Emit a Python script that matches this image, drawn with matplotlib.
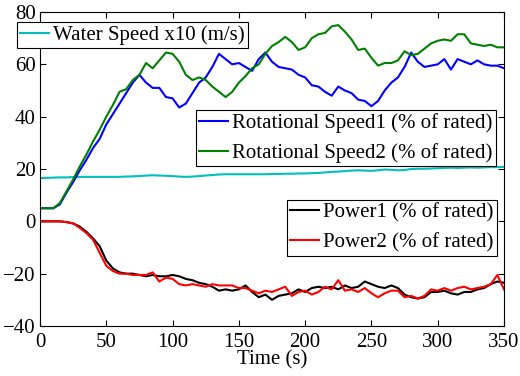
import numpy as np
import matplotlib
matplotlib.use("Agg")
import matplotlib.pyplot as plt

# time axis (s), 5 s steps
time = np.arange(0, 351, 5)

water_speed = [16.5, 16.6, 16.7, 16.8, 16.8, 16.9, 17.0, 17.0, 17.0, 17.0,
               17.0, 17.0, 17.0, 17.1, 17.2, 17.3, 17.5, 17.6, 17.5, 17.4,
               17.3, 17.1, 17.0, 17.1, 17.3, 17.5, 17.7, 17.9, 18.0, 18.0,
               18.0, 18.0, 18.0, 18.0, 18.0, 18.1, 18.1, 18.2, 18.2, 18.3,
               18.3, 18.4, 18.5, 18.7, 18.9, 19.0, 19.2, 19.4, 19.5, 19.4,
               19.3, 19.5, 19.8, 19.7, 19.5, 19.6, 20.0, 20.1, 20.1, 20.2,
               20.3, 20.4, 20.5, 20.4, 20.5, 20.6, 20.5, 20.6, 20.7, 20.7, 20.8]

rot_speed1 = [5.0, 5.0, 5.0, 6.5, 11.0, 15.0, 19.5, 23.5, 28.0, 31.5,
              37.0, 41.0, 45.0, 49.0, 53.0, 56.0, 53.0, 51.0, 51.0, 47.5,
              47.0, 43.5, 45.0, 49.0, 53.0, 55.0, 59.0, 64.0, 62.0, 60.0,
              60.5, 59.0, 57.5, 62.0, 64.5, 61.0, 59.0, 58.5, 58.0, 56.0,
              55.0, 52.0, 51.5, 49.5, 48.0, 51.5, 50.0, 49.0, 46.5, 46.0,
              44.0, 46.0, 50.0, 53.0, 55.0, 59.0, 64.5, 61.0, 59.0, 59.5,
              60.0, 62.0, 58.0, 62.0, 61.0, 60.0, 61.5, 60.0, 59.5, 59.5, 58.5]

rot_speed2 = [5.0, 5.0, 5.0, 7.0, 11.5, 16.0, 21.0, 25.5, 30.5, 35.0,
              40.0, 44.5, 49.5, 50.5, 54.0, 56.0, 60.5, 58.5, 61.5, 64.5,
              64.0, 61.0, 56.0, 54.0, 55.0, 54.0, 51.5, 49.5, 47.5, 49.5,
              53.0, 55.5, 58.5, 60.0, 64.0, 67.0, 68.5, 70.5, 68.5, 65.5,
              66.5, 70.0, 71.5, 72.0, 74.5, 75.0, 72.5, 69.5, 65.5, 66.0,
              62.5, 59.5, 60.5, 60.5, 61.5, 65.0, 63.5, 64.0, 66.0, 68.0,
              69.0, 69.5, 69.0, 71.5, 71.5, 68.0, 67.5, 67.0, 67.5, 66.5, 66.5]

power1 = [0.0, 0.0, 0.0, 0.0, -0.3, -0.8, -2.0, -4.0, -6.5, -9.5,
          -15.0, -18.0, -19.5, -20.0, -20.0, -20.5, -21.0, -20.5, -21.0, -21.0,
          -20.5, -21.0, -22.0, -22.5, -23.5, -24.0, -25.0, -26.5, -26.0, -26.5,
          -26.0, -24.5, -27.0, -29.0, -28.0, -30.0, -28.5, -28.0, -27.5, -26.0,
          -27.0, -25.5, -25.0, -25.5, -25.0, -26.0, -24.5, -25.5, -25.0, -23.0,
          -24.0, -25.0, -25.5, -24.5, -25.5, -28.0, -29.0, -29.5, -29.0, -27.0,
          -27.0, -26.5, -27.5, -28.0, -27.0, -27.0, -26.0, -25.5, -24.0, -23.0, -23.5]

power2 = [0.0, 0.0, 0.0, 0.0, -0.3, -0.8, -2.5, -4.5, -7.0, -12.0,
          -17.0, -19.0, -20.0, -20.0, -20.5, -20.5, -20.5, -19.5, -23.0, -21.5,
          -22.0, -24.0, -24.5, -24.0, -24.5, -25.0, -24.0, -24.5, -24.5, -24.5,
          -25.5, -25.5, -26.5, -27.5, -26.5, -27.0, -26.0, -25.0, -28.5, -27.0,
          -26.5, -28.0, -27.0, -25.0, -26.0, -22.5, -26.5, -26.0, -27.0, -25.5,
          -27.5, -29.0, -27.5, -26.5, -26.5, -29.0, -28.5, -29.5, -28.5, -26.0,
          -26.5, -25.5, -26.5, -25.5, -25.0, -26.0, -25.5, -25.0, -24.0, -20.5, -26.0]

plt.rcParams["font.family"] = ["Liberation Serif", "DejaVu Serif"]
plt.rcParams["font.size"] = 15

fig = plt.figure(figsize=(5.2, 3.76), dpi=100)
ax = fig.add_axes([40 / 520, 50 / 376, 464 / 520, 314 / 376])

lw = 1.5
h_water, = ax.plot(time, water_speed, color=(0, 0.75, 0.75), lw=lw)
h_rot1, = ax.plot(time, rot_speed1, color=(0, 0, 1), lw=lw)
h_rot2, = ax.plot(time, rot_speed2, color=(0, 0.5, 0), lw=lw)
h_p1, = ax.plot(time, power1, color="black", lw=lw)
h_p2, = ax.plot(time, power2, color=(1, 0, 0), lw=lw)

ax.set_xlim(0, 350)
ax.set_ylim(-40, 80)
ax.set_xticks(np.arange(0, 351, 50))
ax.set_yticks(np.arange(-40, 81, 20))
ax.tick_params(direction="in", top=True, right=True, length=4, width=0.8,
               labelsize=15)
ax.tick_params(axis="x", pad=5)
ax.tick_params(axis="y", pad=3)
for sp in ax.spines.values():
    sp.set_linewidth(0.8)
ax.set_xlabel("Time (s)", fontsize=15, labelpad=-1)

leg_kw = dict(frameon=True, fancybox=False, framealpha=1, edgecolor="black",
              fontsize=15, borderaxespad=0, handlelength=1.4, handletextpad=0.2,
              borderpad=0.15, labelspacing=0.5, bbox_transform=fig.transFigure)

leg1 = ax.legend([h_water], ["Water Speed x10 (m/s)"], loc="upper left",
                 bbox_to_anchor=(17 / 520, 1 - 22 / 376), **leg_kw)
leg1.get_frame().set_linewidth(0.8)
ax.add_artist(leg1)
leg2 = ax.legend([h_rot1, h_rot2],
                 ["Rotational Speed1 (% of rated)", "Rotational Speed2 (% of rated)"],
                 loc="upper right", bbox_to_anchor=(496 / 520, 1 - 110 / 376), **leg_kw)
leg2.get_frame().set_linewidth(0.8)
ax.add_artist(leg2)
leg3 = ax.legend([h_p1, h_p2], ["Power1 (% of rated)", "Power2 (% of rated)"],
                 loc="upper right", bbox_to_anchor=(497 / 520, 1 - 200 / 376), **leg_kw)
leg3.get_frame().set_linewidth(0.8)

fig.savefig("out.png", dpi=100)
